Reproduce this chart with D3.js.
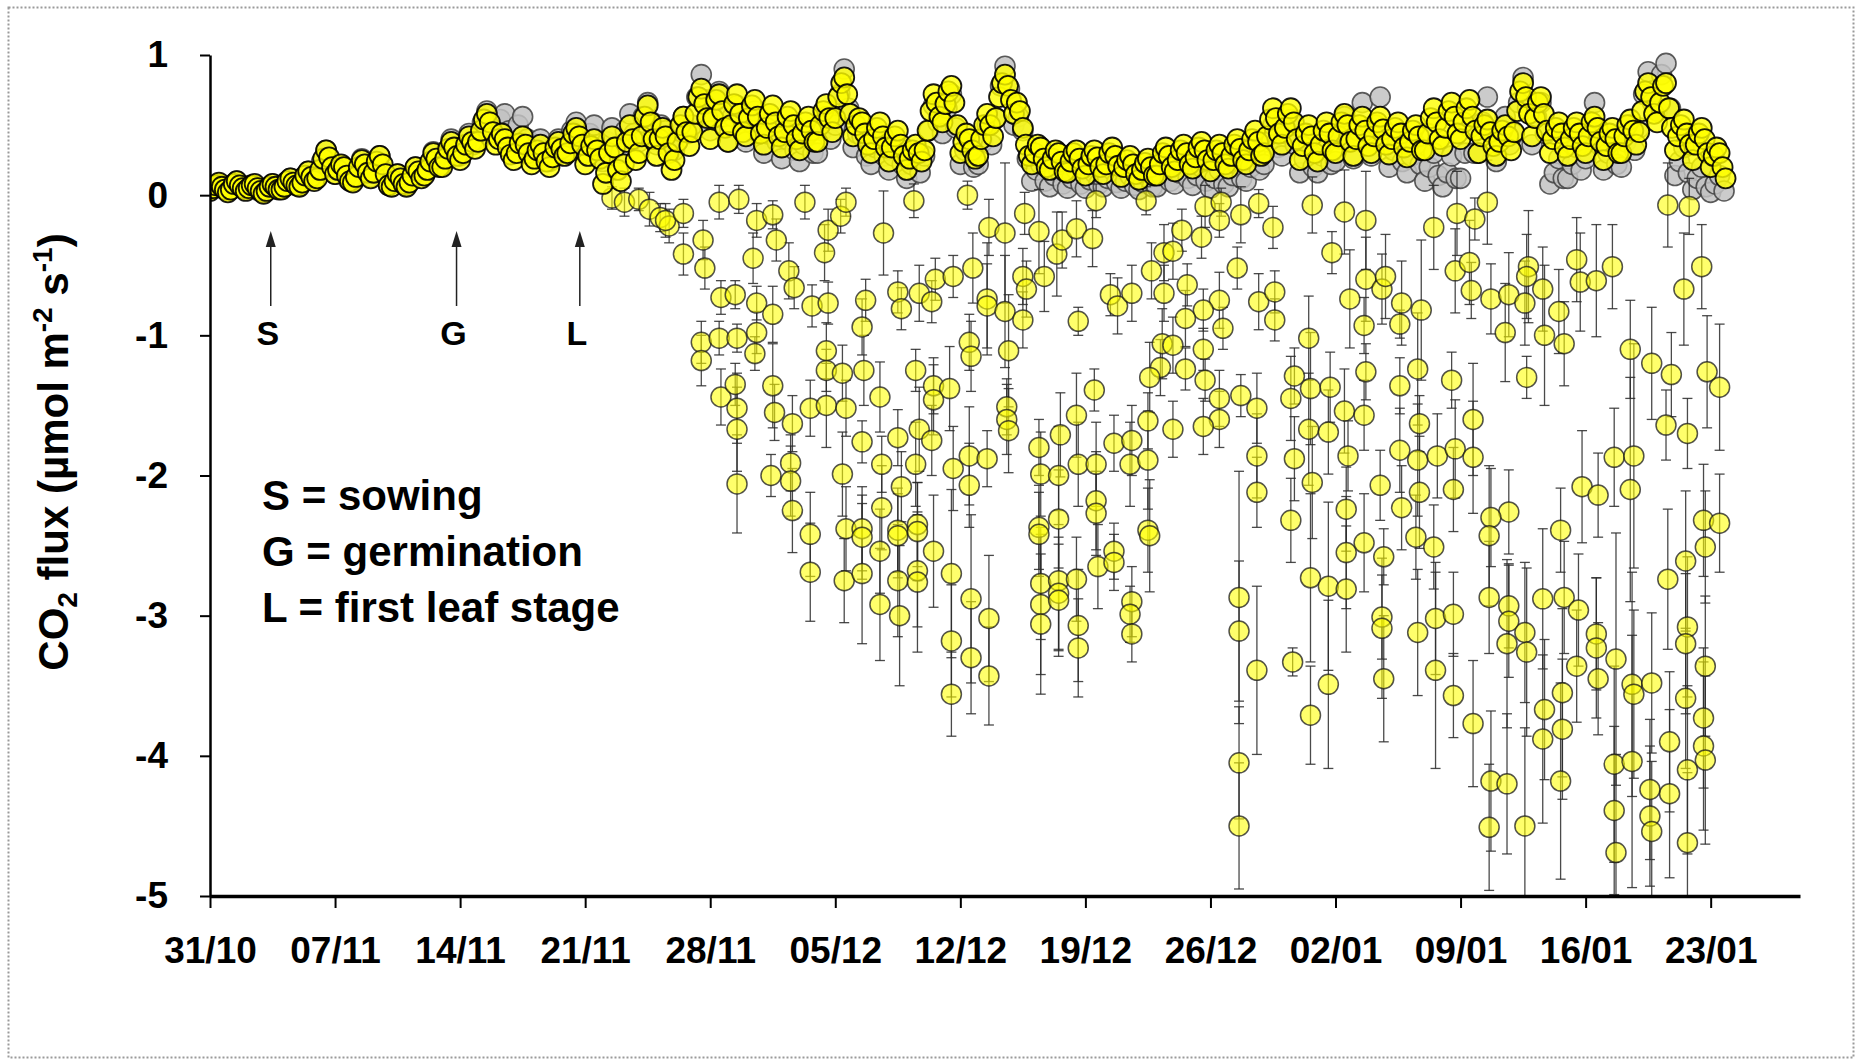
<!DOCTYPE html>
<html><head><meta charset="utf-8">
<script src="https://cdn.jsdelivr.net/npm/d3@7"></script>
<style>
html,body{margin:0;padding:0;background:#fff;}
svg{display:block;}
text{font-family:"Liberation Sans",Arial,sans-serif;font-weight:bold;fill:#000;}
</style></head><body>
<svg id="chart" width="1862" height="1059"></svg>
<script>
// ---- data -------------------------------------------------------------
const dateLabels = ['31/10','07/11','14/11','21/11','28/11','05/12','12/12','19/12','26/12','02/01','09/01','16/01','23/01'];
const dateTickDays = [0,7,14,21,28,35,42,49,56,63,70,77,84];
const yTicks = [-5,-4,-3,-2,-1,0,1];
const stageLabels = ['S','G','L'];
const stageDays = [3.4, 13.8, 20.7];
const legendLines = ['S = sowing','G = germination','L = first leaf stage'];

// Gray series: 4 readings per day (00, 06, 12, 18 h), one row per day from 31/10
const grayFlux = [
[.04,.06,.08,.05],[.03,.07,.10,.06],[.04,.07,.07,.03],[.02,.05,.08,.05],[.05,.09,.12,.08],
[.07,.13,.17,.11],[.13,.24,.32,.21],[.15,.21,.19,.11],[.10,.19,.26,.17],[.13,.22,.28,.17],
[.07,.09,.15,.09],[.07,.13,.20,.14],[.15,.22,.31,.22],[.22,.32,.40,.30],[.28,.36,.44,.36],
[.40,.52,.60,.50],[.42,.54,.58,.46],[.36,.50,.56,.40],[.28,.36,.40,.30],[.24,.34,.40,.30],
[.32,.46,.52,.40],[.30,.44,.50,.36],[.24,.38,.48,.34],[.30,.46,.58,.44],[.38,.56,.66,.52],
[.36,.50,.46,.34],[.32,.48,.56,.44],[.50,.70,.86,.68],[.46,.66,.74,.56],[.38,.56,.64,.46],
[.38,.52,.60,.44],[.30,.44,.52,.38],[.26,.40,.48,.32],[.24,.36,.44,.30],[.30,.46,.56,.40],
[.50,.72,.90,.62],[.34,.44,.42,.28],[.22,.34,.40,.28],[.18,.28,.34,.22],[.12,.22,.28,.16],
[.28,.46,.64,.52],[.44,.62,.72,.48],[.22,.32,.34,.20],[.22,.38,.50,.36],[.55,.78,.92,.76],
[.50,.56,.46,.26],[.10,.18,.22,.10],[.06,.14,.18,.08],[.05,.12,.18,.08],[.05,.11,.16,.08],
[.06,.12,.18,.09],[.05,.10,.14,.07],[.04,.09,.13,.06],[.06,.14,.20,.10],[.08,.16,.22,.12],
[.07,.14,.20,.10],[.05,.12,.18,.08],[.06,.14,.22,.12],[.10,.20,.30,.18],[.22,.38,.50,.34],
[.28,.44,.54,.36],[.16,.26,.36,.20],[.16,.28,.38,.22],[.24,.40,.56,.38],[.26,.46,.66,.44],
[.28,.50,.70,.42],[.20,.32,.40,.24],[.16,.28,.36,.22],[.10,.20,.30,.14],[.06,.16,.28,.12],
[.12,.30,.48,.30],[.30,.52,.70,.46],[.24,.40,.56,.36],[.44,.66,.84,.62],[.36,.56,.66,.44],
[.08,.16,.26,.12],[.12,.22,.34,.18],[.26,.46,.66,.40],[.18,.30,.40,.22],[.20,.38,.50,.32],
[.48,.72,.88,.66],[.60,.86,.94,.62],[.14,.24,.34,.16],[.04,.12,.20,.06],[.02,.08,.14,.03]
];

// Yellow series, respiration readings: 6 per day (every 4 h), one row per day from 31/10
const yellowFlux = [
[.03,.05,.07,.09,.06,.04],[.02,.04,.08,.10,.07,.05],[.03,.05,.07,.08,.05,.03],[.01,.03,.06,.08,.06,.04],
[.04,.06,.10,.12,.09,.07],[.06,.09,.14,.17,.13,.10],[.12,.18,.26,.32,.27,.20],[.15,.18,.22,.20,.14,.10],
[.09,.13,.20,.25,.22,.16],[.12,.16,.24,.28,.22,.15],[.07,.06,.10,.15,.12,.08],[.06,.09,.14,.20,.17,.12],
[.14,.18,.24,.30,.26,.20],[.20,.26,.33,.38,.34,.28],[.25,.30,.36,.42,.38,.33],[.38,.46,.54,.58,.52,.45],
[.36,.40,.44,.40,.34,.29],[.25,.30,.37,.42,.36,.30],[.22,.26,.32,.36,.30,.24],[.20,.27,.34,.38,.33,.28],
[.30,.37,.44,.48,.42,.36],[.22,.28,.35,.40,.32,.26],[.08,.16,.30,.42,.34,.18],[.10,.22,.38,.50,.40,.25],
[.30,.42,.56,.64,.52,.40],[.28,.40,.48,.42,.30,.18],[.25,.38,.50,.56,.45,.35],[.45,.58,.70,.76,.65,.55],
[.40,.55,.68,.72,.60,.48],[.38,.50,.65,.72,.58,.45],[.42,.55,.64,.68,.56,.44],[.36,.48,.58,.64,.52,.42],
[.34,.45,.56,.60,.50,.40],[.32,.44,.52,.56,.46,.38],[.38,.50,.60,.65,.55,.45],[.55,.70,.80,.84,.72,.58],
[.42,.50,.55,.52,.44,.36],[.30,.40,.48,.52,.42,.34],[.24,.34,.42,.46,.36,.28],[.18,.26,.32,.36,.30,.24],
[.32,.46,.60,.72,.66,.56],[.52,.65,.74,.78,.66,.50],[.30,.38,.44,.40,.32,.26],[.28,.40,.50,.58,.50,.42],
[.55,.70,.80,.86,.78,.68],[.58,.66,.60,.48,.36,.28],[.22,.30,.36,.34,.26,.20],[.18,.26,.32,.30,.24,.17],
[.16,.24,.30,.32,.26,.19],[.14,.22,.28,.32,.27,.20],[.15,.22,.30,.34,.28,.21],[.13,.20,.25,.28,.22,.15],
[.11,.18,.23,.26,.20,.14],[.14,.22,.30,.34,.28,.20],[.17,.25,.32,.36,.30,.22],[.19,.27,.34,.38,.32,.25],
[.17,.25,.32,.36,.30,.22],[.19,.28,.36,.40,.33,.25],[.22,.32,.40,.46,.38,.28],[.30,.42,.54,.62,.55,.44],
[.36,.48,.58,.62,.52,.40],[.25,.35,.44,.50,.42,.30],[.24,.36,.46,.52,.44,.32],[.30,.42,.52,.58,.50,.38],
[.28,.40,.50,.56,.46,.35],[.30,.42,.52,.56,.47,.36],[.29,.40,.48,.52,.44,.34],[.27,.38,.46,.50,.42,.32],
[.32,.44,.55,.62,.52,.40],[.35,.48,.60,.66,.56,.44],[.40,.52,.62,.68,.56,.46],[.30,.42,.50,.54,.45,.35],
[.28,.38,.46,.50,.42,.32],[.45,.60,.74,.80,.70,.58],[.42,.55,.66,.70,.58,.46],[.30,.40,.48,.52,.44,.34],
[.28,.40,.48,.52,.44,.35],[.30,.42,.52,.56,.48,.38],[.25,.35,.44,.48,.40,.30],[.30,.42,.50,.54,.46,.36],
[.45,.60,.74,.80,.70,.58],[.52,.66,.78,.80,.62,.48],[.32,.42,.50,.54,.44,.36],[.25,.36,.44,.48,.40,.30],
[.20,.28,.34,.30,.20,.12]
];

// Yellow series, daytime uptake readings: [days since 31/10, flux, sd]
const yellowUptake = [
[22.5,-0.02,.08],[23.2,-0.05,.1],[24.0,-0.03,.08],[24.6,-0.1,.12],[25.2,-0.16,.1],[25.7,-0.22,.12],
[25.5,-0.18,.12],[26.5,-0.13,.1],[26.5,-0.42,.15],[27.6,-0.32,.14],[27.7,-0.52,.15],
[28.6,-0.73,.12],[29.4,-0.71,.1],[30.6,-0.77,.12],[31.5,-0.85,.2],
[27.5,-1.05,.15],[27.5,-1.18,.18],[28.5,-1.02,.12],[29.5,-1.02,.1],[30.6,-0.98,.15],[30.5,-1.13,.12],
[28.6,-1.44,.2],[29.4,-1.35,.15],[29.5,-1.52,.25],[29.5,-1.67,.3],[29.5,-2.06,.35],
[28.5,-0.05,.12],[29.6,-0.03,.1],[30.4,-0.45,.18],[30.6,-0.18,.12],[31.5,-0.14,.1],[31.7,-0.32,.15],[32.4,-0.54,.2],[32.7,-0.66,.15],
[31.5,-1.36,.3],[31.6,-1.55,.2],[32.6,-1.63,.2],[31.4,-2.0,.15],[32.5,-1.91,.2],[32.5,-2.04,.25],[32.6,-2.25,.3],
[33.7,-0.79,.15],[34.6,-0.77,.15],[34.5,-1.11,.2],[34.5,-1.25,.15],[35.4,-1.27,.2],[33.6,-1.52,.2],[34.5,-1.5,.3],[35.6,-1.52,.2],
[33.3,-0.05,.12],[34.6,-0.25,.15],[34.4,-0.41,.2],[35.3,-0.15,.12],[35.6,-0.05,.1],
[36.7,-0.75,.15],[36.5,-0.94,.2],[36.6,-1.25,.25],[37.5,-1.44,.25],[37.7,-0.27,.3],
[36.5,-1.76,.15],[35.4,-1.99,.3],[35.6,-2.38,.3],[37.6,-1.92,.2],[37.6,-2.23,.3],[38.5,-1.73,.2],[38.7,-2.08,.25],
[38.5,-0.69,.15],[38.7,-0.81,.15],[39.7,-0.7,.2],[40.4,-0.76,.15],[40.6,-0.6,.15],[41.6,-0.58,.15],[42.7,-0.52,.25],
[39.5,-1.25,.15],[40.5,-1.36,.2],[41.4,-1.38,.3],[40.5,-1.46,.25],[39.7,-1.67,.3],[40.4,-1.75,.25],[39.5,-1.92,.3],
[41.6,-1.95,.3],[42.5,-1.86,.35],[43.5,-1.88,.2],[42.5,-2.07,.3],[39.6,-2.35,.3],
[39.4,-0.04,.12],[42.4,0.0,.1],[42.5,-1.05,.2],[42.6,-1.15,.25],[43.5,-0.74,.4],[43.5,-0.79,.3],[44.5,-0.83,.4],[45.5,-0.89,.2],
[43.6,-0.23,.2],[44.5,-0.27,.5],[44.7,-1.11,.4],[44.6,-1.51,.2],[44.6,-1.6,.25],[44.7,-1.68,.3],
[45.6,-0.13,.15],[46.4,-0.26,.3],[45.5,-0.58,.2],[45.7,-0.67,.2],[46.7,-0.58,.25],[47.4,-0.42,.3],[47.7,-0.32,.2],[48.5,-0.24,.2],[49.4,-0.31,.2],
[48.6,-0.9,.1],[49.5,-1.39,.15],[48.5,-1.57,.3],[47.6,-1.71,.3],[46.4,-1.8,.2],[46.5,-1.99,.3],[47.5,-2.0,.35],[48.6,-1.92,.3],[49.6,-1.92,.3],[49.6,-2.18,.35],[49.6,-2.27,.3],
[50.6,-1.77,.2],[51.6,-1.75,.25],[51.5,-1.92,.3],[52.5,-1.89,.35],[52.5,-1.61,.2],[52.5,-2.39,.3],[46.4,-2.37,.3],[47.5,-2.31,.35],
[50.4,-0.71,.15],[50.8,-0.79,.2],[51.6,-0.7,.2],[52.7,-0.54,.2],[53.4,-0.41,.2],[53.2,-1.23,.2],[52.6,-1.3,.25],
[49.6,-0.04,.12],[52.4,-0.04,.1],[53.4,-0.7,.2],[53.3,-1.06,.25],
[33.6,-2.42,.3],[36.5,-2.38,.3],[38.5,-2.39,.3],
[33.6,-2.69,.35],[35.5,-2.75,.3],[36.5,-2.44,.3],[36.5,-2.7,.5],[37.5,-2.54,.3],[37.5,-2.92,.4],[38.5,-2.43,.3],[38.5,-2.75,.4],[38.6,-3.0,.5],
[39.6,-2.4,.35],[39.6,-2.68,.4],[39.6,-2.76,.5],[40.5,-2.54,.4],[41.5,-2.7,.6],[41.5,-3.18,.4],[41.5,-3.56,.3],[42.6,-2.88,.6],[42.6,-3.3,.4],[43.6,-3.02,.45],[43.6,-3.43,.35],
[46.4,-2.42,.3],[46.5,-2.77,.4],[46.5,-2.92,.5],[46.5,-3.06,.5],[47.5,-2.75,.5],[47.5,-2.84,.4],[47.5,-2.89,.4],[48.5,-2.74,.3],[48.6,-3.07,.4],[48.6,-3.23,.35],
[49.7,-2.65,.3],[50.6,-2.54,.2],[50.6,-2.62,.2],[51.6,-2.9,.25],[51.5,-2.99,.2],[51.6,-3.13,.2],[52.6,-2.43,.4],
[55.7,-0.08,.15],[56.6,-0.05,.1],[56.5,-0.18,.12],[57.7,-0.14,.2],[58.7,-0.06,.1],[59.5,-0.23,.15],[54.4,-0.25,.15],[55.5,-0.3,.15],[53.9,-0.4,.2],
[57.5,-0.52,.15],[54.7,-0.64,.15],[56.5,-0.75,.2],[55.6,-0.82,.15],[54.6,-0.88,.2],[56.7,-0.95,.15],[58.7,-0.76,.2],[59.6,-0.69,.15],[59.6,-0.89,.15],
[53.9,-1.07,.2],[55.6,-1.1,.15],[54.6,-1.24,.15],[55.7,-1.32,.15],[56.5,-1.45,.2],[57.7,-1.43,.15],[58.6,-1.52,.25],[56.5,-1.6,.2],[55.6,-1.65,.2],[53.9,-1.67,.2],[58.6,-1.86,.3],[58.6,-2.12,.25],
[61.5,-1.02,.3],[60.7,-1.29,.2],[61.6,-1.38,.4],[62.7,-1.37,.25],[60.5,-1.45,.3],[61.5,-1.67,.4],[62.6,-1.69,.3],[63.5,-1.54,.3],[60.7,-1.88,.3],[61.7,-2.05,.4],[63.7,-1.86,.25],[64.6,-1.57,.25],[64.7,-1.26,.2],
[61.7,-0.07,.2],[63.5,-0.12,.3],[64.7,-0.18,.35],[62.8,-0.41,.15],[63.8,-0.74,.35],[64.7,-0.6,.3],[64.6,-0.93,.2],[65.6,-0.67,.25],[65.8,-0.58,.3],[66.7,-0.77,.3],[66.6,-0.92,.1],[67.8,-0.82,.5],
[68.5,-0.23,.3],[69.8,-0.13,.3],[70.8,-0.17,.15],[71.5,-0.05,.3],[69.7,-0.54,.3],[70.5,-0.48,.3],[70.6,-0.68,.2],
[66.6,-1.36,.2],[67.6,-1.24,.4],[69.5,-1.32,.2],[70.7,-1.6,.4],[67.7,-1.63,.2],[66.6,-1.82,.3],[67.6,-1.89,.4],[68.7,-1.86,.3],[69.7,-1.81,.35],[70.7,-1.87,.4],
[65.5,-2.07,.25],[66.7,-2.23,.3],[67.7,-2.12,.4],[69.6,-2.1,.3],[63.6,-2.24,.3],[60.5,-2.32,.3],
[71.7,-0.74,.25],[72.7,-0.71,.3],[73.6,-0.77,.3],[73.8,-0.51,.4],[73.7,-0.58,.3],[74.6,-0.67,.3],[72.5,-0.98,.35],[74.7,-1.0,.5],[75.5,-0.83,.3],[75.8,-1.06,.3],[73.7,-1.3,.15],
[76.5,-0.46,.3],[76.7,-0.62,.35],[77.6,-0.61,.4],[78.5,-0.51,.3],[81.6,-0.07,.3],[82.8,-0.08,.2],[82.5,-0.67,.4],[83.5,-0.51,.3],
[79.5,-1.1,.35],[80.7,-1.2,.4],[81.8,-1.28,.3],[83.8,-1.26,.4],[84.5,-1.37,.45],[81.5,-1.64,.25],[82.7,-1.7,.25],[78.6,-1.87,.35],[79.7,-1.86,.8],
[76.8,-2.08,.4],[77.7,-2.14,.3],[79.5,-2.1,.8],[75.6,-2.39,.3],[72.7,-2.26,.3],[71.7,-2.3,.35],[83.6,-2.32,.4],[84.5,-2.34,.35],
[57.6,-2.87,.9],[57.6,-3.11,.5],[58.6,-3.39,.6],[57.6,-4.05,.4],[57.6,-4.5,.45],[60.6,-3.33,.1],[61.6,-2.73,.6],[62.6,-2.79,.6],[63.6,-2.81,.45],[63.6,-2.55,.4],[64.6,-2.48,.35],
[62.6,-3.49,.6],[61.6,-3.71,.35],[65.7,-2.58,.2],[65.6,-3.01,.3],[65.6,-3.09,.5],[65.7,-3.45,.45],[67.6,-3.12,.45],[68.6,-3.02,.4],[69.6,-2.99,.3],[68.6,-3.39,.7],[69.6,-3.57,.3],[70.7,-3.77,.45],
[68.5,-2.51,.3],[67.5,-2.44,.3],[71.6,-2.87,.4],[71.7,-4.18,.5],[72.6,-4.2,.5],[71.6,-4.51,.45],[73.6,-4.5,.7],[72.7,-2.93,.3],[72.7,-3.04,.4],[72.6,-3.2,.6],[73.6,-3.12,.5],[73.7,-3.26,.6],
[71.6,-2.43,.5],[74.6,-2.88,.5],[74.7,-3.67,.5],[74.6,-3.88,.6],[75.7,-3.55,.6],[75.7,-3.81,.5],[75.6,-4.18,.7],[75.8,-2.87,.4],[76.6,-2.96,.4],[76.5,-3.36,.4],
[77.6,-3.13,.4],[77.6,-3.23,.5],[77.7,-3.45,.4],[78.7,-3.31,.9],[78.6,-4.06,.7],[78.6,-4.39,.6],[78.7,-4.69,.7],[79.6,-3.49,.8],[79.7,-3.56,.6],[79.6,-4.04,.9],
[80.7,-3.48,.5],[80.6,-4.24,.5],[80.6,-4.43,.5],[80.7,-4.54,.5],[81.7,-3.9,.5],[81.7,-4.27,.6],[81.6,-2.74,.5],[82.6,-2.61,.5],[82.7,-3.08,.5],[82.6,-3.2,.5],
[82.6,-3.59,.5],[82.7,-4.1,.6],[82.7,-4.62,.5],[83.7,-3.36,.5],[83.6,-3.73,.5],[83.6,-3.93,.6],[83.7,-4.03,.6],[83.7,-2.51,.4]
];

// ---- layout -----------------------------------------------------------
const svg = d3.select('#chart');
const W = 1862, H = 1059;
const plot = {left: 210, right: 1800, top: 55, bottom: 896};

const x = d3.scaleLinear().domain([0, 89]).range([plot.left, plot.right]);
const y = d3.scaleLinear().domain([-5, 1]).range([plot.bottom, plot.top]);
const R = 10;

// outer frame
svg.append('rect').attr('x', 8.5).attr('y', 7.5).attr('width', W - 17).attr('height', H - 9)
  .attr('fill', 'none').attr('stroke', '#9a9a9a').attr('stroke-width', 2).attr('stroke-dasharray', '2,2');

svg.append('clipPath').attr('id', 'plotClip').append('rect')
  .attr('x', plot.left).attr('y', 20).attr('width', plot.right - plot.left).attr('height', plot.bottom - 20);

const marks = svg.append('g').attr('clip-path', 'url(#plotClip)');

// flatten the regular series into {day, v}
const grayPts = grayFlux.flatMap((row, d) => row.map((v, k) => ({day: d + k / row.length, v})));
const yellowPts = yellowFlux.flatMap((row, d) => row.map((v, k) => ({day: d + k / row.length, v})));
const uptakePts = yellowUptake.map(([day, v, sd]) => ({day, v, sd}));

// gray series
marks.append('g').selectAll('circle').data(grayPts).join('circle')
  .attr('cx', d => x(d.day)).attr('cy', d => y(d.v)).attr('r', R)
  .attr('fill', '#c2c2c2').attr('fill-opacity', 0.85)
  .attr('stroke', '#404040').attr('stroke-opacity', 0.85).attr('stroke-width', 1.6);

// error bars for daytime readings
const eb = marks.append('g').attr('stroke', '#2a2a2a').attr('stroke-width', 1.3).attr('stroke-opacity', 0.85);
uptakePts.forEach(p => {
  const cx = x(p.day), y1 = y(p.v + p.sd), y2 = y(p.v - p.sd);
  eb.append('line').attr('x1', cx).attr('x2', cx).attr('y1', y1).attr('y2', y2);
  eb.append('line').attr('x1', cx - 5).attr('x2', cx + 5).attr('y1', y1).attr('y2', y1);
  eb.append('line').attr('x1', cx - 5).attr('x2', cx + 5).attr('y1', y2).attr('y2', y2);
});

// yellow series
marks.append('g').selectAll('circle').data(uptakePts).join('circle')
  .attr('cx', d => x(d.day)).attr('cy', d => y(d.v)).attr('r', R)
  .attr('fill', '#ffff00').attr('fill-opacity', 0.58)
  .attr('stroke', '#1a1a1a').attr('stroke-opacity', 0.75).attr('stroke-width', 1.5);
marks.append('g').selectAll('circle').data(yellowPts).join('circle')
  .attr('cx', d => x(d.day)).attr('cy', d => y(d.v)).attr('r', R)
  .attr('fill', '#ffff00').attr('fill-opacity', 0.8)
  .attr('stroke', '#000').attr('stroke-opacity', 0.9).attr('stroke-width', 1.8);

// ---- axes -------------------------------------------------------------
const yAxis = svg.append('g').attr('transform', `translate(${plot.left},0)`)
  .call(d3.axisLeft(y).tickValues(yTicks).tickFormat(d => String(d)).tickSize(10).tickSizeOuter(0).tickPadding(32));
yAxis.select('.domain').attr('stroke', '#000').attr('stroke-width', 2.5);
yAxis.selectAll('.tick line').attr('stroke', '#000').attr('stroke-width', 2);
yAxis.selectAll('.tick text').attr('font-size', 37).attr('font-family', '"Liberation Sans",Arial,sans-serif')
  .attr('font-weight', 'bold').attr('fill', '#000');

const xAxis = svg.append('g').attr('transform', `translate(0,${plot.bottom})`)
  .call(d3.axisBottom(x).tickValues(dateTickDays).tickFormat((d, i) => dateLabels[i]).tickSize(12).tickSizeOuter(0).tickPadding(29));
xAxis.select('.domain').attr('stroke', '#000').attr('stroke-width', 3.5);
xAxis.selectAll('.tick line').attr('stroke', '#000').attr('stroke-width', 2);
xAxis.selectAll('.tick text').attr('font-size', 37).attr('font-family', '"Liberation Sans",Arial,sans-serif')
  .attr('font-weight', 'bold').attr('fill', '#000');

// y-axis title
const title = svg.append('text').attr('transform', 'translate(68,452) rotate(-90)')
  .attr('text-anchor', 'middle').attr('font-size', 42);
title.append('tspan').text('CO');
title.append('tspan').attr('font-size', 28).attr('dy', 9).text('2');
title.append('tspan').attr('dy', -9).text(' flux (µmol m');
title.append('tspan').attr('font-size', 28).attr('dy', -16).text('-2');
title.append('tspan').attr('dy', 16).text(' s');
title.append('tspan').attr('font-size', 28).attr('dy', -16).text('-1');
title.append('tspan').attr('dy', 16).text(')');

// growth-stage arrows
const stages = svg.append('g');
stageDays.forEach((d, i) => {
  const ax = x(d);
  stages.append('line').attr('x1', ax).attr('x2', ax).attr('y1', 306).attr('y2', 244)
    .attr('stroke', '#222').attr('stroke-width', 1.5);
  stages.append('path').attr('d', `M${ax},231 L${ax - 5},247 L${ax + 5},247 Z`).attr('fill', '#222');
  stages.append('text').attr('x', ax - 3).attr('y', 345).attr('text-anchor', 'middle')
    .attr('font-size', 34).text(stageLabels[i]);
});

// stage key
const key = svg.append('g');
legendLines.forEach((t, i) => {
  key.append('text').attr('x', 262).attr('y', 510 + i * 56).attr('font-size', 42).text(t);
});
</script>
</body></html>
